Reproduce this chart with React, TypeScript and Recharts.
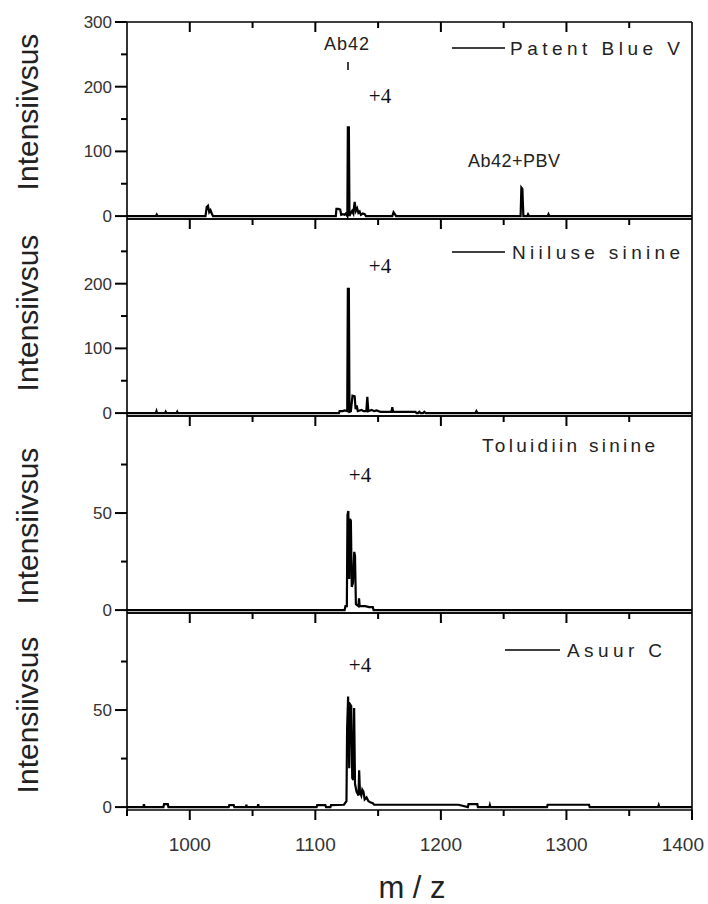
import React from "react";
import { LineChart, Line, XAxis, YAxis, ReferenceLine } from "recharts";

// m/z axis
const MZ_MIN = 950;
const MZ_MAX = 1400;
const X_TICKS = [950, 1000, 1050, 1100, 1150, 1200, 1250, 1300, 1350, 1400];
const X_INNER_TICKS = [1000, 1050, 1100, 1150, 1200, 1250, 1300, 1350];
const X_LABELS = [1000, 1100, 1200, 1300, 1400];

// panel 1 — Patent Blue V
const pbvMz = [950, 973, 973.7, 974.4, 1012.5, 1013.5, 1014.5, 1015.5, 1016.5, 1017.5, 1018.5, 1116.3, 1116.8, 1118.3, 1119.8, 1120.6, 1121.8, 1123.3, 1124.3, 1125.5, 1125.9, 1126.7, 1127.2, 1127.8, 1129.3, 1130.3, 1131.3, 1132.3, 1133.3, 1134.3, 1135.3, 1136.3, 1137.8, 1139.3, 1140.3, 1161.3, 1162.3, 1163.3, 1164.3, 1263.5, 1264.1, 1264.9, 1265.7, 1268.7, 1269.4, 1270.2, 1285, 1285.7, 1286.4, 1400];
const pbvInt = [0, 0, 2.5, 0, 0, 14, 16, 6, 9, 4, 0, 0, 11, 11, 10, 2, 3, 2, 4, 0, 137, 137, 0, 3, 8, 4, 22, 8, 12, 5, 7, 2, 4, 3, 0, 0, 6, 3, 0, 0, 44, 42, 0, 0, 3, 0, 0, 3, 0, 0];

// panel 2 — Niiluse sinine
const nileMz = [950, 973, 973.5, 974, 980.3, 980.8, 981.3, 989.5, 990, 990.5, 1118.8, 1119.3, 1121.8, 1123.3, 1125.4, 1125.9, 1126.7, 1127.2, 1128.3, 1129.6, 1131.3, 1132.1, 1133, 1133.8, 1135.3, 1136.8, 1138.3, 1140.6, 1141.4, 1142.2, 1144.8, 1146.8, 1148.8, 1151.8, 1156.8, 1160.6, 1161.3, 1162, 1166.8, 1171.8, 1176.8, 1179.8, 1180.6, 1181.8, 1182.8, 1183.8, 1185.8, 1186.8, 1187.8, 1227.5, 1228.3, 1229.1, 1400];
const nileInt = [0, 0, 3, 0, 0, 2, 0, 0, 2, 0, 0, 3, 3, 4, 3, 192, 192, 2, 3, 27, 26, 6, 12, 3, 4, 5, 3, 3, 25, 3, 5, 3, 4, 2, 2, 2, 9, 2, 2, 2, 2, 2, 0, 0, 2, 0, 0, 2, 0, 0, 3, 0, 0];

// panel 3 — Toluidiin sinine
const toluMz = [950, 1123.3, 1124, 1125.1, 1125.6, 1126.3, 1127, 1127.6, 1128.3, 1129, 1130, 1131, 1131.6, 1132.3, 1134.3, 1134.8, 1135.3, 1139.8, 1142.8, 1145.8, 1146.4, 1400];
const toluInt = [0, 0, 2, 2, 49, 51, 16, 47, 46, 12, 14, 30, 28, 3, 2, 6, 2, 2, 1.5, 1.5, 0, 0];

// panel 4 — Asuur C
const azurMz = [950, 963, 963.5, 964, 979, 979.5, 982.5, 983, 1031, 1031.5, 1035, 1035.5, 1044.7, 1045.1, 1045.5, 1054, 1054.5, 1055, 1101, 1101.5, 1108, 1108.5, 1112, 1112.5, 1122.8, 1124.8, 1125.3, 1126.1, 1127, 1127.6, 1128.6, 1129.4, 1130.2, 1130.9, 1131.6, 1132.8, 1134.4, 1134.9, 1135.5, 1136.6, 1137.4, 1138.3, 1139.3, 1140.8, 1142.3, 1143.8, 1145.8, 1146.8, 1214, 1221.5, 1222, 1229, 1229.5, 1238.6, 1239, 1239.4, 1284.5, 1285, 1318, 1318.5, 1373, 1373.5, 1374, 1400];
const azurInt = [0, 0, 1.5, 0, 0, 1.5, 1.5, 0, 0, 1, 1, 0, 0, 1.2, 0, 0, 1.5, 0, 0, 1, 1, 0, 0, 1, 1.2, 3, 40, 57, 20, 53, 52, 15, 14, 51, 12, 8, 6, 19, 8, 6, 9, 8, 4, 5, 3, 2.5, 2, 1.2, 1.2, 0, 1.5, 1.5, 0, 0, 1, 0, 0, 1.2, 1.2, 0, 0, 1, 0, 0];

const zip = (mz: number[], v: number[]) => mz.map((m, i) => ({ mz: m, v: v[i] }));

const PANEL_H = 197;
const PLOT_W = 565;
const MT = 14;
const LEFT = 127;
const RIGHT_MARGIN = 16;
const FONT = "'Liberation Sans', Arial, sans-serif";
const INK = "#000";
const MAJOR = 10;
const MINOR = 6;

type Panel = {
  top: number;
  data: { mz: number; v: number }[];
  domain: [number, number];
  ticks: number[];
  labels: number[];
  last?: boolean;
};

const panels: Panel[] = [
  { top: 22, data: zip(pbvMz, pbvInt), domain: [-4.5, 300], ticks: [0, 50, 100, 150, 200, 250, 300], labels: [0, 100, 200, 300] },
  { top: 219, data: zip(nileMz, nileInt), domain: [-4.5, 300], ticks: [0, 50, 100, 150, 200, 250], labels: [0, 100, 200] },
  { top: 416, data: zip(toluMz, toluInt), domain: [-1.5, 100], ticks: [0, 25, 50, 75], labels: [0, 50] },
  { top: 613, data: zip(azurMz, azurInt), domain: [-1.5, 100], ticks: [0, 25, 50, 75], labels: [0, 50], last: true },
];

// labels under the last panel
function BottomLabel(props: any) {
  const { x, payload } = props;
  const v = payload.value;
  const y = MT + 1 + PANEL_H;
  if (!X_LABELS.includes(v)) return <g />;
  const isEnd = v === MZ_MAX;
  return (
    <text
      x={isEnd ? x + 12 : x}
      y={y + 41}
      textAnchor={isEnd ? "end" : "middle"}
      fontSize={19}
      fontFamily={FONT}
      fill="#333"
      stroke="none"
    >
      {v}
    </text>
  );
}

function makeYLabel(labels: number[]) {
  return (props: any) => {
    const { y, payload } = props;
    if (!labels.includes(payload.value)) return <g />;
    return (
      <text x={LEFT - 15} y={y + 6} textAnchor="end" fontSize={17} fontFamily={FONT} fill="#333" stroke="none">
        {payload.value}
      </text>
    );
  };
}

function SpectrumPanel({ p }: { p: Panel }) {
  const mb = p.last ? 50 : 10;
  const h = MT + 1 + PANEL_H + 1 + mb;
  const [y0, y1] = p.domain;
  const upp = (y1 - y0) / PANEL_H; // intensity units per pixel
  const xpp = (MZ_MAX - MZ_MIN) / PLOT_W; // m/z units per pixel
  const tickLen = (v: number) => (v % 100 === 0 ? MAJOR : MINOR);
  return (
    <div style={{ position: "absolute", left: 0, top: p.top - MT - 1 }}>
      <LineChart width={708} height={h} data={p.data} margin={{ top: MT, right: RIGHT_MARGIN, bottom: mb, left: 0 }}>
        <XAxis
          xAxisId="t"
          orientation="top"
          dataKey="mz"
          type="number"
          domain={[MZ_MIN, MZ_MAX]}
          ticks={X_TICKS}
          allowDataOverflow
          height={1}
          tick={false}
          tickLine={false}
          axisLine={{ stroke: INK, strokeWidth: 1.6 }}
        />
        <XAxis
          xAxisId="b"
          orientation="bottom"
          dataKey="mz"
          type="number"
          domain={[MZ_MIN, MZ_MAX]}
          ticks={X_TICKS}
          allowDataOverflow
          height={1}
          tickSize={0}
          tickMargin={0}
          tickLine={false}
          tick={p.last ? BottomLabel : false}
          axisLine={{ stroke: INK, strokeWidth: 1.6 }}
          interval={0}
        />
        <YAxis
          type="number"
          domain={p.domain}
          ticks={p.ticks}
          allowDataOverflow
          width={LEFT}
          tickSize={0}
          tickMargin={0}
          tickLine={false}
          tick={makeYLabel(p.labels)}
          axisLine={{ stroke: INK, strokeWidth: 1.6 }}
          interval={0}
        />
        <ReferenceLine xAxisId="t" x={MZ_MAX} stroke={INK} strokeWidth={1.6} />
        {/* inward ticks on the top edge */}
        {X_INNER_TICKS.map((v) => (
          <ReferenceLine
            key={`t${v}`}
            xAxisId="t"
            ifOverflow="visible"
            segment={[{ x: v, y: y1 }, { x: v, y: y1 - tickLen(v) * upp }]}
            stroke={INK}
            strokeWidth={2}
          />
        ))}
        {/* outward ticks under the last panel */}
        {p.last &&
          X_TICKS.map((v) => (
            <ReferenceLine
              key={`b${v}`}
              xAxisId="t"
              ifOverflow="visible"
              segment={[{ x: v, y: y0 }, { x: v, y: y0 - tickLen(v) * upp }]}
              stroke={INK}
              strokeWidth={2}
            />
          ))}
        {/* outward ticks on the left edge */}
        {p.ticks.map((t) => (
          <ReferenceLine
            key={`y${t}`}
            xAxisId="t"
            ifOverflow="visible"
            segment={[{ x: MZ_MIN, y: t }, { x: MZ_MIN - (p.labels.includes(t) ? 12 : 6) * xpp, y: t }]}
            stroke={INK}
            strokeWidth={2}
          />
        ))}
        <Line
          xAxisId="t"
          dataKey="v"
          type="linear"
          stroke={INK}
          strokeWidth={2.2}
          dot={false}
          isAnimationActive={false}
        />
      </LineChart>
    </div>
  );
}

const yLabelCenters = [112, 313, 526, 715];

export default function App() {
  return (
    <div style={{ position: "absolute", left: 0, top: 0, width: 708, height: 904, background: "#fff", overflow: "hidden" }}>
      {panels.map((p, i) => (
        <SpectrumPanel key={i} p={p} />
      ))}
      <svg width={708} height={904} style={{ position: "absolute", left: 0, top: 0, pointerEvents: "none" }}>
        <g fontFamily={FONT} fill="#222">
          {yLabelCenters.map((cy, i) => (
            <text key={i} x={0} y={0} transform={`translate(38 ${cy}) rotate(-90)`} textAnchor="middle" fontSize={30}>
              Intensiivsus
            </text>
          ))}
          <text x={412} y={898} textAnchor="middle" fontSize={31}>m / z</text>

          {/* legends */}
          <line x1={452} x2={505} y1={48} y2={48} stroke={INK} strokeWidth={1.5} />
          <text x={510} y={55} fontSize={19} textLength={170} lengthAdjust="spacing">Patent Blue V</text>
          <line x1={452} x2={505} y1={252} y2={252} stroke={INK} strokeWidth={1.5} />
          <text x={512} y={259} fontSize={19} textLength={168} lengthAdjust="spacing">Niiluse sinine</text>
          <text x={482} y={452} fontSize={19} textLength={173} lengthAdjust="spacing">Toluidiin sinine</text>
          <line x1={505} x2={560} y1={650} y2={650} stroke={INK} strokeWidth={1.5} />
          <text x={567} y={657} fontSize={19} textLength={95} lengthAdjust="spacing">Asuur C</text>

          {/* annotations */}
          <text x={347} y={50} textAnchor="middle" fontSize={18} letterSpacing={1}>Ab42</text>
          <line x1={348} x2={348} y1={62} y2={70} stroke={INK} strokeWidth={1.5} />
          <text x={468} y={167} fontSize={18} textLength={92} lengthAdjust="spacing">Ab42+PBV</text>
        </g>
        <g fontFamily="'Liberation Serif', 'Times New Roman', serif" fill="#111" fontSize={21} textAnchor="middle">
          <text x={380} y={103}>+4</text>
          <text x={380} y={273}>+4</text>
          <text x={360} y={482}>+4</text>
          <text x={360} y={672}>+4</text>
        </g>
      </svg>
    </div>
  );
}
